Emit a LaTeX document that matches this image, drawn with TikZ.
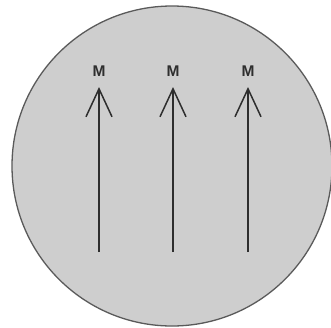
\documentclass[tikz,border=0pt]{standalone}
\usepackage{fontspec}
\setmainfont{Liberation Sans}
\usetikzlibrary{arrows.meta}
\definecolor{disc}{HTML}{CECECE}
\definecolor{rim}{HTML}{5A5A5A}
\definecolor{ink}{HTML}{2E2E2E}
\tikzset{
  field/.style={draw=ink, line width=1.5pt, -{Straight Barb[length=28pt, width=26pt, line width=1.5pt]}},
  mlabel/.style={text=ink, font=\fontsize{15.5}{15.5}\selectfont\bfseries, inner sep=0pt}
}
\begin{document}
\begin{tikzpicture}[x=1pt,y=-1pt]
\useasboundingbox (0,0) rectangle (331,327);
\fill[white] (0,0) rectangle (331,327);
\node[circle, draw=rim, line width=1.3pt, fill=disc, minimum size=320pt, inner sep=0pt] (disc) at (172,166) {};
\foreach \i/\x in {1/99,2/173,3/248}{
  \coordinate (b\i) at (\x,252);
  \coordinate (t\i) at (\x,87);
  \node[mlabel] (m\i) at (\x,71) {M};
  \draw[field] (b\i) -- (t\i);
}
\end{tikzpicture}
\end{document}
